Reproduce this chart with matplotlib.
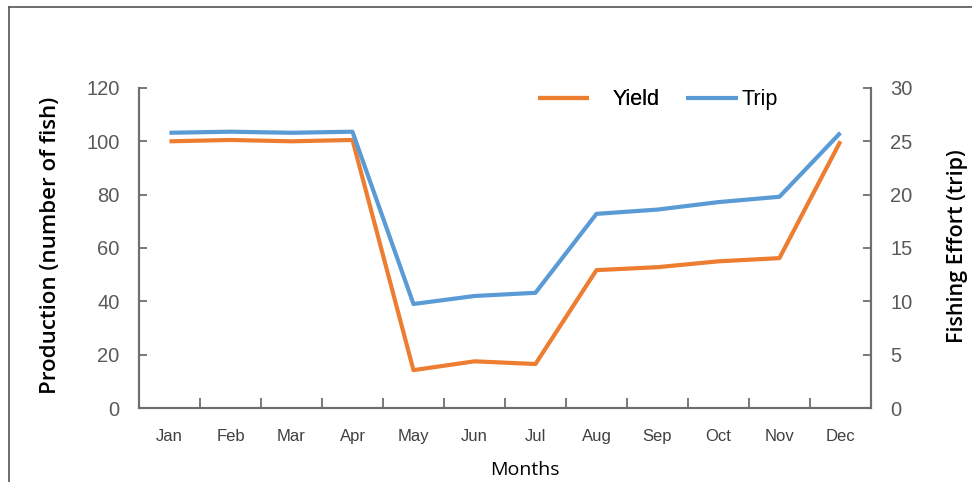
import matplotlib.pyplot as plt
from matplotlib.lines import Line2D
import numpy as np

plt.rcParams['font.family'] = ['Liberation Sans', 'DejaVu Sans']

months = ['Jan', 'Feb', 'Mar', 'Apr', 'May', 'Jun',
          'Jul', 'Aug', 'Sep', 'Oct', 'Nov', 'Dec']
# yield in number of fish, trips per month
yield_fish = [100, 100.5, 100, 100.5, 14.2, 17.5, 16.5, 51.7, 52.8, 55, 56.2, 100]
trips = [25.8, 25.9, 25.8, 25.9, 9.75, 10.5, 10.8, 18.2, 18.6, 19.3, 19.8, 25.8]

orange = '#ED7D31'
blue = '#5B9BD5'
grey = '#595959'
spine_c = '#6e6e6e'

fig = plt.figure(figsize=(9.72, 4.82), dpi=100)
ax = fig.add_axes([0.143, 0.1535, 0.753, 0.664])
ax2 = ax.twinx()

x = np.arange(len(months))
l1, = ax.plot(x, yield_fish, color=orange, lw=3, label='Yield', solid_capstyle='butt')
l2, = ax2.plot(x, trips, color=blue, lw=3, label='Trip', solid_capstyle='butt')

ax.set_xlim(-0.5, len(months) - 0.5)
ax.set_ylim(0, 120)
ax2.set_ylim(0, 30)
ax.set_yticks(np.arange(0, 121, 20))
ax2.set_yticks(np.arange(0, 31, 5))

# category ticks between months, labels centred on each month
ax.set_xticks(x)
ax.set_xticklabels(months)
ax.set_xticks(np.arange(0.5, len(months) - 1, 1), minor=True)
ax.tick_params(axis='x', which='major', length=0, pad=15, labelsize=12, labelcolor='#404040')
ax.tick_params(axis='x', which='minor', direction='in', length=7, width=1.3, color=spine_c)
ax.tick_params(axis='y', direction='in', length=6, width=1.3, color=spine_c,
               pad=14, labelsize=14.5, labelcolor=grey)
ax2.tick_params(axis='y', direction='in', length=6, width=1.3, color=spine_c,
                pad=14, labelsize=14.5, labelcolor=grey)

for a in (ax, ax2):
    a.spines['top'].set_visible(False)
    for s in ('left', 'right', 'bottom'):
        a.spines[s].set_color(spine_c)
        a.spines[s].set_linewidth(1.5)

fig.text(0.052, 0.49, 'Production (number of fish)', rotation=90, ha='center',
         va='center', fontsize=16, family='Open Sans', fontweight='semibold')
fig.text(0.985, 0.49, 'Fishing Effort (trip)', rotation=90, ha='center',
         va='center', fontsize=15.5, family='Open Sans', fontweight='semibold')
fig.text(0.54, 0.025, 'Months', ha='center', va='center', fontsize=14,
         family='Open Sans')

# two legend entries, spaced like the spreadsheet legend
leg1 = fig.legend(handles=[l1], loc='center left', bbox_to_anchor=(0.553, 0.793),
                  frameon=False, fontsize=15.5, handlelength=2.4,
                  handletextpad=1.1, borderaxespad=0, borderpad=0)
fig.legend(handles=[l2], loc='center left', bbox_to_anchor=(0.706, 0.793),
           frameon=False, fontsize=15.5, handlelength=2.4,
           handletextpad=0.15, borderaxespad=0, borderpad=0)
fig.add_artist(leg1)

# thin grey frame on the top and left edges
fig.add_artist(Line2D([0.009, 0.009], [0, 0.985], transform=fig.transFigure,
                      color='#555555', lw=1.2))
fig.add_artist(Line2D([0.009, 1.0], [0.985, 0.985], transform=fig.transFigure,
                      color='#555555', lw=1.2))

fig.savefig('out.png', dpi=100)
